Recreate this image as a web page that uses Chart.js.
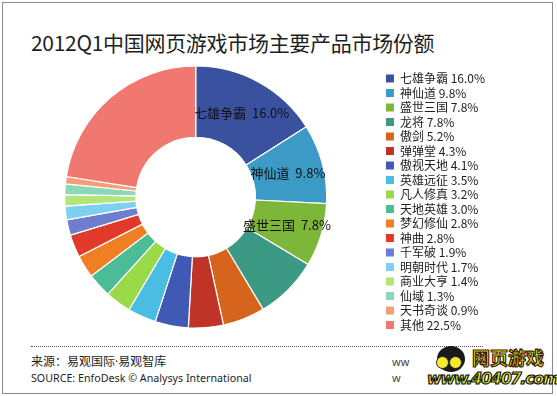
<!DOCTYPE html>
<html>
<head>
<meta charset="utf-8">
<script src="https://cdn.jsdelivr.net/npm/chart.js@4.4.0/dist/chart.umd.min.js"></script>
<style>
  html, body { margin: 0; padding: 0; background: #fff; }
  #frame {
    position: relative; width: 557px; height: 396px; overflow: hidden;
    font-family: "Noto Sans CJK SC", "Noto Sans", sans-serif; color: #1e1e1e;
  }
  #border {
    position: absolute; left: 2px; top: 2px; width: 549px; height: 390px;
    border: 1px solid #8a8a8a;
  }
  #title {
    position: absolute; left: 31px; top: 28px; font-size: 21px; line-height: 28px;
    white-space: nowrap; letter-spacing: -0.3px;
  }
  #chart-box { position: absolute; left: 0; top: 55px; width: 557px; height: 285px; }
  #rule {
    position: absolute; left: 31px; top: 346px; width: 452px; height: 0;
    border-top: 1px dotted #555;
  }
  .src { position: absolute; left: 31px; font-size: 12px; line-height: 16px; white-space: nowrap; }
  .dot { font-family: "Noto Sans", sans-serif; }
  #src-cn { top: 353px; }
  #src-en { top: 370px; font-family: "Noto Sans", sans-serif; font-size: 10.7px; }
  .wm { position: absolute; white-space: nowrap; font-weight: bold; }
  #wm1 {
    left: 472px; top: 344px; font-size: 18px; color: #f8ef2a;
    -webkit-text-stroke: 1.2px #3a1a00; font-family: "Noto Sans CJK SC", sans-serif;
  }
  #wm2 {
    left: 427px; top: 369px; font-size: 16px; color: #e6f02a; letter-spacing: -1.3px;
    -webkit-text-stroke: 1.2px #111; font-family: "DejaVu Sans", sans-serif; font-style: italic;
  }
  #wm-ww1, #wm-ww2 { position: absolute; font-size: 11px; color: #444; font-family: "Noto Sans", sans-serif; }
  #wm-ww1 { left: 392px; top: 354px; }
  #wm-ww2 { left: 392px; top: 370px; }
  #head {
    position: absolute; left: 437px; top: 346px; width: 28px; height: 26px;
    background: #1a1a1a; border-radius: 50%;
  }
  #eye1, #eye2 {
    position: absolute; width: 11px; height: 11px; border-radius: 50%;
    background: #f5e92a; border: 1px solid #222; top: 356px;
  }
  #eye1 { left: 436px; }
  #eye2 { left: 449px; }
</style>
</head>
<body>
<div id="frame">
  <div id="border"></div>
  <div id="title">2012Q1中国网页游戏市场主要产品市场份额</div>
  <div id="chart-box"><canvas id="pie"></canvas></div>
  <div id="rule"></div>
  <div class="src" id="src-cn">来源：易观国际<span class="dot">·</span>易观智库</div>
  <div class="src" id="src-en">SOURCE: EnfoDesk © Analysys International</div>
  <div id="wm-ww1">ww</div>
  <div id="wm-ww2">w</div>
  <div id="head"></div>
  <div id="eye1"></div>
  <div id="eye2"></div>
  <div class="wm" id="wm1">网页游戏</div>
  <div class="wm" id="wm2">www.40407.com</div>
</div>
<script>
// ── Datos ──────────────────────────────────────────────────────────────────
const products = [
  '七雄争霸', '神仙道', '盛世三国', '龙将', '傲剑', '弹弹堂', '傲视天地', '英雄远征', '凡人修真',
  '天地英雄', '梦幻修仙', '神曲', '千军破', '明朝时代', '商业大亨', '仙域', '天书奇谈', '其他'
];
const shares = [16.0, 9.8, 7.8, 7.8, 5.2, 4.3, 4.1, 3.5, 3.2, 3.0, 2.8, 2.8, 1.9, 1.7, 1.4, 1.3, 0.9, 22.5];
const sliceColors = [
  '#3a51a0', '#3b9ac6', '#7db73a', '#3c9a84', '#d7641c', '#c03428', '#3f59b4', '#4bbde2', '#9ad947',
  '#4bbc95', '#f07e22', '#e23a2a', '#6e7ecf', '#7dd0ef', '#b4e57a', '#8cd7b7', '#f3a07a', '#f07870'
];
const labeledSlices = 3;   // solo las tres primeras llevan etiqueta dentro

const fmtPct = v => v.toFixed(1) + '%';

// ── Etiquetas dentro de los sectores ───────────────────────────────────────
const sliceLabels = {
  id: 'sliceLabels',
  afterDatasetsDraw(chart) {
    const { ctx } = chart;
    const meta = chart.getDatasetMeta(0);
    ctx.save();
    ctx.font = '13px "Noto Sans CJK SC", sans-serif';
    ctx.fillStyle = '#111';
    ctx.textAlign = 'center';
    ctx.textBaseline = 'middle';
    for (let i = 0; i < labeledSlices; i++) {
      const { x, y } = meta.data[i].tooltipPosition();
      ctx.fillText(products[i] + '  ' + fmtPct(shares[i]), x, y);
    }
    ctx.restore();
  }
};

new Chart(document.getElementById('pie'), {
  type: 'doughnut',
  plugins: [sliceLabels],
  data: {
    labels: products,
    datasets: [{
      data: shares,
      backgroundColor: sliceColors,
      borderColor: '#ffffff',
      borderWidth: 1.2,
    }],
  },
  options: {
    responsive: true, maintainAspectRatio: false, animation: false,
    radius: 131, cutout: 62,
    layout: { padding: { left: 8, top: 5.5, bottom: 6.5, right: 62 } },
    plugins: {
      tooltip: { enabled: false },
      legend: {
        position: 'right',
        align: 'end',
        labels: {
          color: '#222',
          boxWidth: 8, boxHeight: 8, padding: 2.5,
          font: { size: 12, family: '"Noto Sans CJK SC", sans-serif' },
          generateLabels: chart => products.map((name, i) => ({
            text: name + ' ' + fmtPct(shares[i]),
            fillStyle: sliceColors[i],
            strokeStyle: '#fff',
            lineWidth: 0,
            fontColor: '#222',
            index: i,
          })),
        },
      },
    },
  },
});
</script>
</body>
</html>
